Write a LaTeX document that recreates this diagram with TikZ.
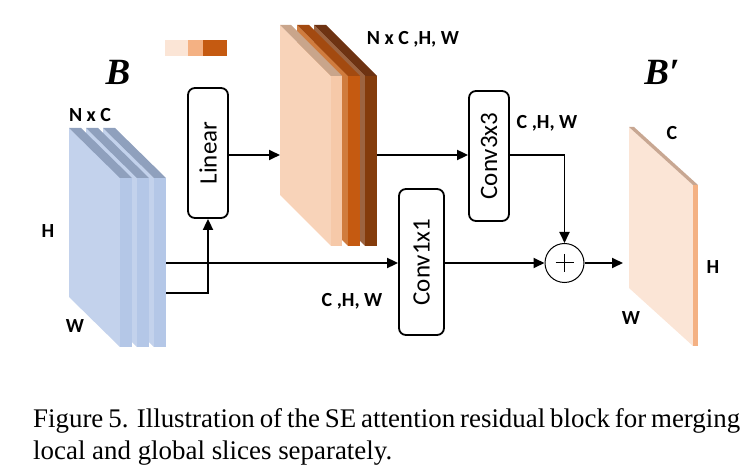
\documentclass[tikz,border=0pt]{standalone}
\usepackage{fontspec}
\setmainfont{Liberation Serif}
\newfontfamily\lab{Carlito}
\usetikzlibrary{arrows.meta,calc}
\definecolor{bfront}{HTML}{C3D2EC}
\definecolor{btop}{HTML}{8FA0BD}
\definecolor{bside}{HTML}{B4C7E7}
\definecolor{oafront}{HTML}{F8D3B9}
\definecolor{oatop}{HTML}{C9A58B}
\definecolor{oaside}{HTML}{F6C9A9}
\definecolor{obfront}{HTML}{D07C3E}
\definecolor{obtop}{HTML}{A34A10}
\definecolor{obside}{HTML}{C55A11}
\definecolor{ocfront}{HTML}{9D6440}
\definecolor{octop}{HTML}{6E3312}
\definecolor{ocside}{HTML}{843C0C}
\definecolor{pfront}{HTML}{FBE5D6}
\definecolor{ptop}{HTML}{C8A792}
\definecolor{pside}{HTML}{F4B183}
\definecolor{legb}{HTML}{F4B183}
% \myslab{x0}{ytop}{w}{d}{h}{t}{front}{top}{side}
\newcommand\myslab[9]{%
  \fill[#7] (#1,#2) -- ({#1+#3},{#2+#4}) -- ({#1+#3},{#2+#4+#5}) -- (#1,{#2+#5}) -- cycle;
  \fill[#8] (#1,#2) -- ({#1+#6},#2) -- ({#1+#3+#6},{#2+#4}) -- ({#1+#3},{#2+#4}) -- cycle;
  \fill[#9] ({#1+#3},{#2+#4}) rectangle ({#1+#3+#6},{#2+#4+#5});
}
\tikzset{
  opbox/.style={draw,line width=1.8pt,rounded corners=7pt,inner sep=0pt},
  optext/.style={rotate=90,font=\lab\fontsize{25}{28}\selectfont,inner sep=0pt},
  dimlab/.style={font=\lab\bfseries\fontsize{20}{24}\selectfont,inner sep=0pt},
  biglab/.style={font=\bfseries\itshape\fontsize{37}{40}\selectfont,inner sep=0pt},
  capline/.style={font=\fontsize{26.9}{31}\selectfont,inner sep=0pt,anchor=base west},
  arr/.style={line width=1.8pt,-{Triangle[length=11pt,width=10pt]}},
}
\begin{document}
\begin{tikzpicture}[x=1pt,y=-1pt]
\path[use as bounding box] (0,0) rectangle (756,473);
% blue stack
\myslab{103}{128}{51}{50}{169}{12}{bfront}{btop}{bside}
\myslab{86}{128}{51}{50}{169}{12}{bfront}{btop}{bside}
\myslab{69}{128}{51}{50}{169}{12}{bfront}{btop}{bside}
% orange stack
\myslab{314}{25}{51}{51}{170}{12}{ocfront}{octop}{ocside}
\myslab{297}{25}{51}{51}{170}{12}{obfront}{obtop}{obside}
\myslab{280}{25}{51}{51}{170}{11}{oafront}{oatop}{oaside}
% output slab
\myslab{629}{127}{64}{58}{161}{5}{pfront}{ptop}{pside}
% legend
\fill[pfront] (165,40) rectangle (188,56);
\fill[legb] (188,40) rectangle (203,56);
\fill[obside] (203,40) rectangle (227,56);
% coordinates on slabs
\coordinate (bout1) at (166,263);
\coordinate (bout2) at (166,293);
\coordinate (oin) at (280,155);
\coordinate (oout) at (377,155);
\coordinate (bpin) at (623,263);
% boxes
\node[opbox,minimum width=40pt,minimum height=130pt] (lin) at (208,153) {};
\node[optext] (lint) at (lin.center) {Linear};
\node[opbox,minimum width=40pt,minimum height=130pt] (conv3) at (489,156) {};
\node[optext] (conv3t) at (conv3.center) {Conv3x3};
\node[opbox,minimum width=45pt,minimum height=146pt] (conv1) at (421.5,262) {};
\node[optext] (conv1t) at (conv1.center) {Conv1x1};
\node[draw,circle,line width=1pt,minimum size=39pt,inner sep=0pt] (plus) at (564.5,263) {};
\draw[line width=1pt] ($(plus.center)+(-9,0)$) -- ($(plus.center)+(9,0)$)
  ($(plus.center)+(0,-9)$) -- ($(plus.center)+(0,9)$);
% arrows
\draw[arr] (lin.east |- oin) -- (oin);
\draw[arr] (oout) -- (oout -| conv3.west);
\draw[arr] (conv3.east |- oout) -| (plus.north);
\draw[arr] (bout1) -- (bout1 -| conv1.west);
\draw[arr] (conv1.east |- plus.west) -- (plus.west);
\draw[arr] (plus.east) -- (bpin);
\draw[arr] (bout2) -| (lin.south);
% labels
\node[biglab] (lb) at (118,72) {B};
\node[biglab] (lbp) at (662,72) {B′};
\node[dimlab] (l1) at (90,115) {N x C};
\node[dimlab] (l2) at (48,231) {H};
\node[dimlab] (l3) at (75,326) {W};
\node[dimlab] (l4) at (352,301) {C ,H, W};
\node[dimlab] (l5) at (413,39) {N x C ,H, W};
\node[dimlab] (l6) at (547,123) {C ,H, W};
\node[dimlab] (l7) at (672,133) {C};
\node[dimlab] (l8) at (713,267) {H};
\node[dimlab] (l9) at (631,318) {W};
% caption
\node[capline] (cap1) at (33,428) {\hbox to 707pt{Figure 5. Illustration of the SE attention residual block for merging}};
\node[capline] (cap2) at (33,459) {local and global slices separately.};
\end{tikzpicture}
\end{document}
